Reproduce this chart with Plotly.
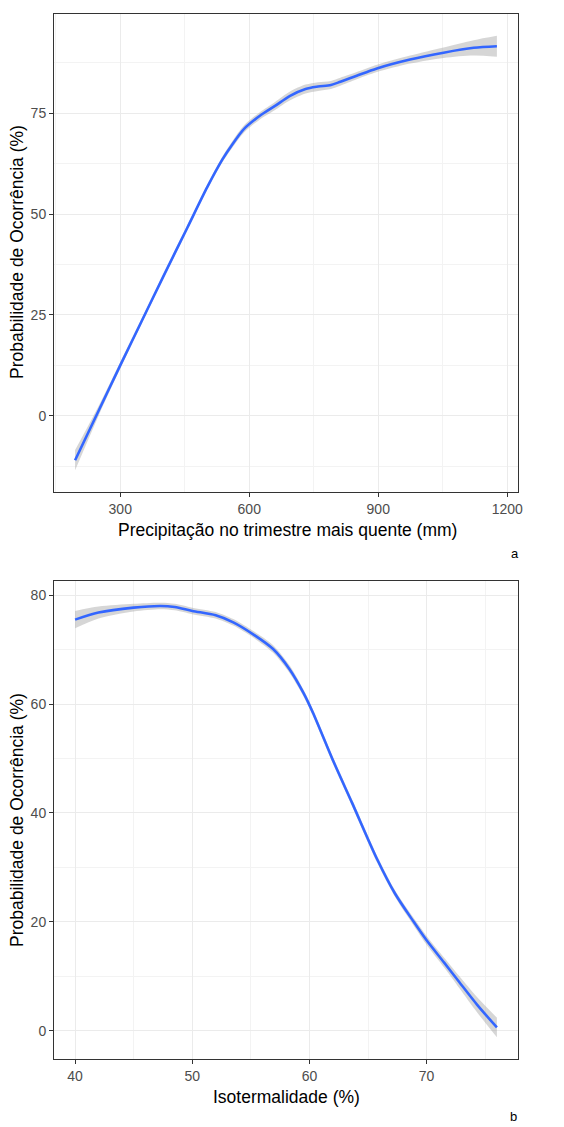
import plotly.graph_objects as go

# ---- Panel a: precipitation ----
precip_x = [195, 250, 300, 350, 400, 456, 502, 538, 559, 588, 624, 660, 695, 731, 760, 790, 812, 850, 897, 974, 1052, 1122, 1176]
precip_y = [-11, 1.3, 12.5, 23.5, 34.5, 46.6, 56.6, 63.6, 67.0, 71.1, 74.3, 76.8, 79.3, 81.0, 81.6, 82.0, 82.8, 84.3, 86.1, 88.3, 90, 91.2, 91.6]
precip_se = [2.5, 1.2, 0.8, 0.6, 0.6, 0.6, 0.6, 0.7, 0.8, 0.9, 0.9, 1.0, 1.1, 1.1, 1.1, 1.0, 1.0, 0.9, 0.9, 1.0, 1.3, 1.9, 2.6]

# ---- Panel b: isothermality ----
iso_x = [40, 42, 45, 47.3, 48.5, 50, 52, 53.5, 55.2, 56.9, 58.3, 59.5, 60.3, 62.1, 63.65, 65.8, 67.3, 68.9, 70, 71.5, 72.8, 74.3, 76]
iso_y = [75.5, 76.8, 77.7, 78.0, 77.8, 77.1, 76.3, 75.0, 72.8, 70.1, 66.4, 62.0, 58.4, 49.2, 41.8, 31.4, 25.2, 20.0, 16.6, 12.5, 8.9, 4.8, 0.6]
iso_se = [1.6, 1.1, 0.7, 0.6, 0.6, 0.6, 0.6, 0.6, 0.6, 0.7, 0.7, 0.6, 0.6, 0.6, 0.6, 0.6, 0.6, 0.7, 0.8, 0.9, 1.1, 1.4, 1.8]

precip_ticks = [300, 600, 900, 1200]
precip_yticks = [0, 25, 50, 75]
iso_ticks = [40, 50, 60, 70]
iso_yticks = [0, 20, 40, 60, 80]

# page body has an 8px margin; figure is sized to fill the rest of the window
OX, OY = 8, 8
W, H = 564 - OX, 1127 - OY
LINE = "#3366FF"
RIB = "rgba(153,153,153,0.4)"
FONT = "Liberation Sans, Arial, sans-serif"

fig = go.Figure()

def add_panel(x, y, se, xa, ya):
    lo = [v - s for v, s in zip(y, se)]
    hi = [v + s for v, s in zip(y, se)]
    fig.add_trace(go.Scatter(x=x, y=lo, mode="lines", line=dict(width=0, shape="spline", smoothing=0.8),
                             xaxis=xa, yaxis=ya, showlegend=False, hoverinfo="skip"))
    fig.add_trace(go.Scatter(x=x, y=hi, mode="lines", line=dict(width=0, shape="spline", smoothing=0.8),
                             fill="tonexty", fillcolor=RIB,
                             xaxis=xa, yaxis=ya, showlegend=False, hoverinfo="skip"))
    fig.add_trace(go.Scatter(x=x, y=y, mode="lines",
                             line=dict(color=LINE, width=2.6, shape="spline", smoothing=0.8),
                             xaxis=xa, yaxis=ya, showlegend=False))

add_panel(precip_x, precip_y, precip_se, "x", "y")
add_panel(iso_x, iso_y, iso_se, "x2", "y2")

def dom_x(l, r):
    return [(l - OX) / W, (r - OX) / W]

def dom_y(t, b):
    return [1 - (b - OY) / H, 1 - (t - OY) / H]

axis_common = dict(
    showline=True, mirror=True, linecolor="#333333", linewidth=1,
    ticks="outside", ticklen=4, tickcolor="#333333", tickwidth=1,
    showgrid=True, gridcolor="#EBEBEB", gridwidth=1,
    tickfont=dict(family=FONT, size=14, color="#4D4D4D"),
    zeroline=False, automargin=False,
)

def mk_minor(ticks):
    step = ticks[1] - ticks[0]
    vals = [(a + b) / 2 for a, b in zip(ticks[:-1], ticks[1:])]
    vals += [ticks[0] - step / 2, ticks[-1] + step / 2]
    return dict(showgrid=True, gridcolor="#F3F3F3", gridwidth=0.6, tickvals=vals)

def rng(vals_lo, vals_hi):
    lo, hi = min(vals_lo), max(vals_hi)
    d = (hi - lo) * 0.05
    return [lo - d, hi + d]

p_lo = [v - s for v, s in zip(precip_y, precip_se)]
p_hi = [v + s for v, s in zip(precip_y, precip_se)]
i_lo = [v - s for v, s in zip(iso_y, iso_se)]
i_hi = [v + s for v, s in zip(iso_y, iso_se)]

fig.update_layout(
    width=W, height=H,
    margin=dict(l=0, r=0, t=0, b=0),
    paper_bgcolor="white", plot_bgcolor="white",
    font=dict(family=FONT, color="black"),
    xaxis=dict(axis_common, domain=dom_x(54, 518), anchor="y",
               range=rng(precip_x, precip_x), tickvals=precip_ticks,
               minor=mk_minor(precip_ticks)),
    yaxis=dict(axis_common, domain=dom_y(14, 492), anchor="x",
               range=rng(p_lo, p_hi), tickvals=precip_yticks,
               minor=mk_minor(precip_yticks)),
    xaxis2=dict(axis_common, domain=dom_x(54, 518), anchor="y2",
                range=rng(iso_x, iso_x), tickvals=iso_ticks,
                minor=mk_minor(iso_ticks)),
    yaxis2=dict(axis_common, domain=dom_y(581, 1059), anchor="x2",
                range=rng(i_lo, i_hi), tickvals=iso_yticks,
                minor=mk_minor(iso_yticks)),
)

def ann(text, x, y, size, angle=0):
    fig.add_annotation(text=text, x=(x - OX) / W, y=1 - (y - OY) / H, xref="paper", yref="paper",
                       showarrow=False, textangle=angle, xanchor="center", yanchor="middle",
                       font=dict(family=FONT, size=size, color="black"))

ann("Precipitação no trimestre mais quente (mm)", 287, 530, 17.5)
ann("Isotermalidade (%)", 286, 1097, 17.5)
ann("Probabilidade de Ocorrência (%)", 17, 252, 17.5, angle=-90)
ann("Probabilidade de Ocorrência (%)", 17, 820, 17.5, angle=-90)
ann("a", 515, 553, 13)
ann("b", 513, 1116, 13)

fig.write_html("out.html")
